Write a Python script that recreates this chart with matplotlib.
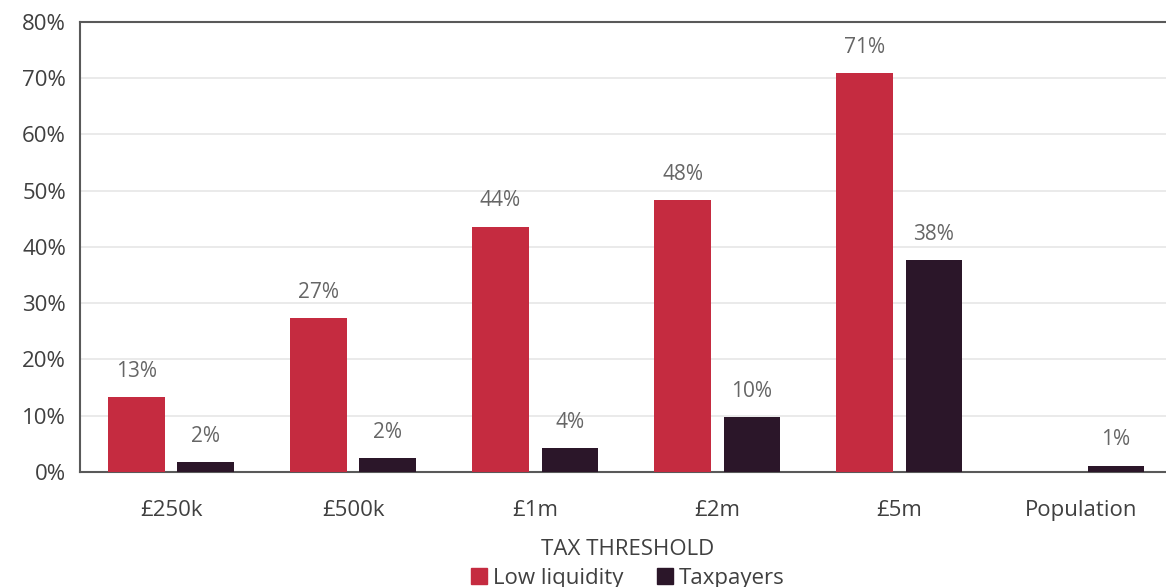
"""Low liquidity share vs taxpayers by wealth tax threshold."""

import matplotlib.pyplot as plt
from matplotlib.patches import Patch
import numpy as np

plt.rcParams["font.family"] = ["Open Sans", "DejaVu Sans"]

categories = ["£250k", "£500k", "£1m", "£2m", "£5m", "Population"]
low_liquidity = [13.3, 27.3, 43.6, 48.3, 70.9, None]
taxpayers = [1.7, 2.5, 4.2, 9.7, 37.7, 1.1]

RED = "#C52B40"
DARK = "#2B1629"
TEXT = "#404040"
LABEL = "#666666"


def main() -> None:
    fig = plt.figure(figsize=(11.66, 5.87), dpi=100)
    ax = fig.add_axes([0.0686, 0.196, 0.94, 0.7665])

    x = np.arange(len(categories))
    off, w = 0.19, 0.31

    for xi, v in zip(x, low_liquidity):
        if v is None:
            continue
        ax.bar(xi - off, v, w, color=RED, zorder=3)
        ax.annotate(f"{v:.0f}%", (xi - off, v), xytext=(0, 11), textcoords="offset points",
                    ha="center", va="bottom", fontsize=15, color=LABEL)
    for xi, v in zip(x, taxpayers):
        ax.bar(xi + off, v, w, color=DARK, zorder=3)
        ax.annotate(f"{v:.0f}%", (xi + off, v), xytext=(0, 11), textcoords="offset points",
                    ha="center", va="bottom", fontsize=15, color=LABEL)

    ax.set_xlim(-0.5, len(categories) - 0.5 + 0.02)
    ax.set_ylim(0, 80)
    ax.set_yticks(range(0, 81, 10))
    ax.set_yticklabels([f"{t}%" for t in range(0, 81, 10)])
    ax.set_xticks(x)
    ax.set_xticklabels(categories)
    ax.tick_params(axis="both", length=0, labelsize=16, colors=TEXT)
    ax.tick_params(axis="x", pad=20)
    ax.tick_params(axis="y", pad=10)
    ax.grid(axis="y", color="#E6E6E6", linewidth=1.2, zorder=0)
    for side in ("left", "bottom", "top"):
        ax.spines[side].set_color("#595959")
        ax.spines[side].set_linewidth(1.5)
    ax.spines["right"].set_visible(False)

    ax.set_xlabel("TAX THRESHOLD", fontsize=16, color=TEXT, labelpad=13)
    handles = [Patch(color=RED, label="Low liquidity"), Patch(color=DARK, label="Taxpayers")]
    ax.legend(handles=handles, loc="upper center", bbox_to_anchor=(0.5, -0.188), ncol=2,
              frameon=False, fontsize=16, handlelength=0.7, handleheight=0.7,
              handletextpad=0.3, columnspacing=1.5, labelcolor=TEXT, borderpad=0)

    fig.savefig("out.png", dpi=100)
    plt.close(fig)


if __name__ == "__main__":
    main()
